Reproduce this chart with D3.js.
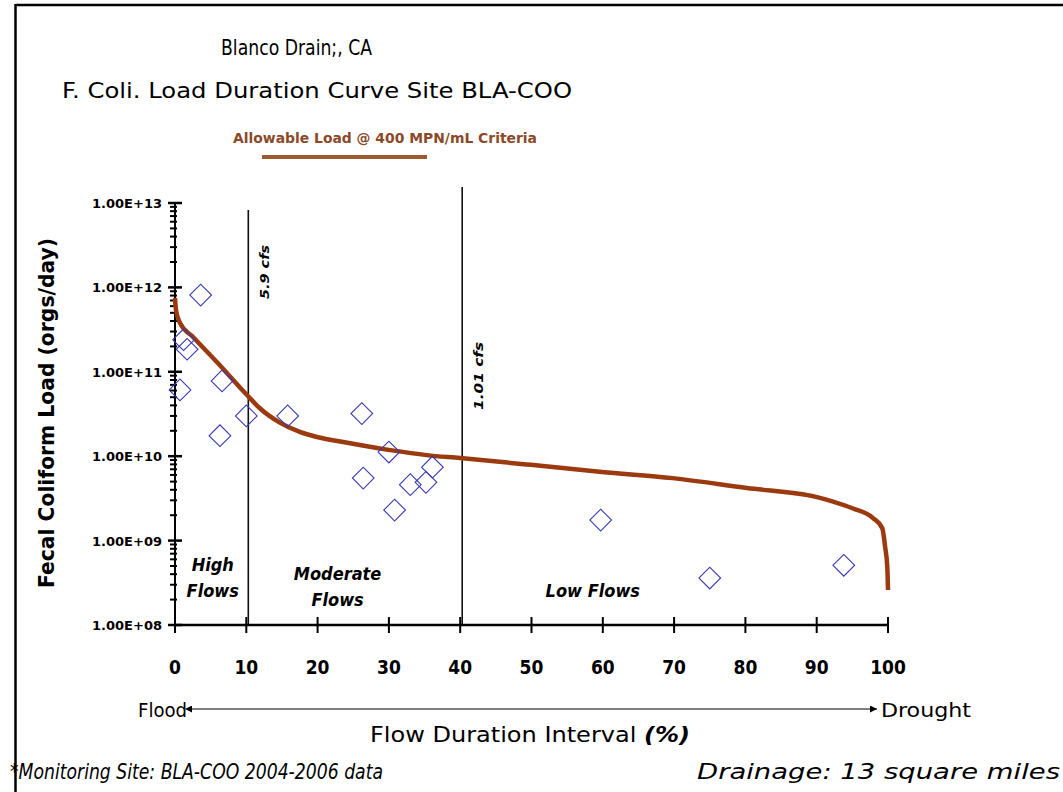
<!DOCTYPE html>
<html><head><meta charset="utf-8">
<script src="https://cdn.jsdelivr.net/npm/d3@7"></script>
<style>
html,body{margin:0;padding:0;background:#fff;}
svg{display:block;}
text{font-family:"Comic Sans MS","DejaVu Sans",sans-serif;}
.cond{font-family:"DejaVu Sans Condensed","DejaVu Sans",sans-serif;font-stretch:condensed;}
</style></head>
<body>
<svg id="chart" width="1063" height="792"></svg>
<script>
// ---- data ----
const curveX = [0, 0.14, 0.7, 2.5, 6.0, 10.1, 11.9, 14.7, 17.5, 19.9, 23.6, 30.2, 35.3, 40, 49.9, 59.9, 69.8, 80.2, 89.9, 92.3, 95.1, 97.9, 99.2, 99.6, 99.9, 100];
const curveY = [7.5e11, 5.4e11, 3.8e11, 2.6e11, 1.27e11, 5.3e10, 3.7e10, 2.5e10, 1.94e10, 1.69e10, 1.47e10, 1.18e10, 1.03e10, 9.5e9, 7.9e9, 6.5e9, 5.5e9, 4.2e9, 3.3e9, 2.9e9, 2.4e9, 1.85e9, 1.4e9, 8.4e8, 4.9e8, 2.6e8];
const obsX = [3.6, 1.2, 1.7, 0.7, 6.6, 6.3, 10.0, 15.8, 26.2, 30.0, 26.4, 30.8, 33.0, 35.2, 36.1, 59.7, 75.0, 93.8];
const obsY = [8.1e11, 2.4e11, 1.85e11, 6.1e10, 7.8e10, 1.75e10, 3.0e10, 3.0e10, 3.2e10, 1.12e10, 5.5e9, 2.3e9, 4.6e9, 4.9e9, 7.4e9, 1.75e9, 3.6e8, 5.1e8];
const xTicks = [0, 10, 20, 30, 40, 50, 60, 70, 80, 90, 100];
const yTicks = [1e8, 1e9, 1e10, 1e11, 1e12, 1e13];
const boundaries = [10, 40];
const boundaryLabels = ["5.9 cfs", "1.01 cfs"];
const regionNames = [["High", "Flows"], ["Moderate", "Flows"], ["Low Flows"]];
const regionCenters = [5.3, 22.8, 58.6];

// ---- layout ----
const svg = d3.select("#chart");
const x = d3.scaleLinear().domain([0, 100]).range([175, 888]);
const y = d3.scaleLog().domain([1e8, 1e13]).range([625, 203]);

// frame (top and left rules)
svg.append("line").attr("x1", 15.5).attr("x2", 1063).attr("y1", 5).attr("y2", 5).attr("stroke", "#000").attr("stroke-width", 2.5);
svg.append("line").attr("x1", 15.5).attr("x2", 15.5).attr("y1", 4).attr("y2", 792).attr("stroke", "#000").attr("stroke-width", 2.5);

// titles
svg.append("text").attr("x", 221).attr("y", 55)
  .attr("font-size", 21).attr("textLength", 151).attr("lengthAdjust", "spacingAndGlyphs").text("Blanco Drain;, CA");
svg.append("text").attr("x", 62).attr("y", 98)
  .attr("font-size", 22).attr("textLength", 510).attr("lengthAdjust", "spacingAndGlyphs").text("F. Coli. Load Duration Curve Site BLA-COO");

// legend
svg.append("text").attr("x", 233).attr("y", 143)
  .attr("font-size", 14).attr("font-weight", "bold").attr("fill", "#8a4a2a")
  .attr("textLength", 304).attr("lengthAdjust", "spacingAndGlyphs").text("Allowable Load @  400 MPN/mL Criteria");
svg.append("line").attr("x1", 262).attr("x2", 427).attr("y1", 157).attr("y2", 157)
  .attr("stroke", "#9a5a2c").attr("stroke-width", 4);

// boundary lines
const topY = [210, 187];
boundaries.forEach((b, i) => {
  svg.append("line").attr("x1", x(b) + 2).attr("x2", x(b) + 2).attr("y1", topY[i]).attr("y2", 625)
    .attr("stroke", "#111").attr("stroke-width", 1.6);
});
const blY = [272, 376];
const blLen = [54, 68];
boundaryLabels.forEach((t, i) => {
  const px = x(boundaries[i]) + 2 + 21;
  svg.append("text").attr("transform", `translate(${px},${blY[i]}) rotate(-90)`)
    .attr("text-anchor", "middle").attr("font-size", 13).attr("font-weight", "bold").attr("font-style", "italic")
    .attr("textLength", blLen[i]).attr("lengthAdjust", "spacingAndGlyphs")
    .text(t);
});

// region labels
const regionY = [[571, 597], [580, 606], [597]];
regionNames.forEach((lines, i) => {
  lines.forEach((l, j) => {
    svg.append("text").attr("class", "cond").attr("x", x(regionCenters[i])).attr("y", regionY[i][j]).attr("text-anchor", "middle")
      .attr("font-size", 18).attr("font-weight", "bold").attr("font-style", "italic").text(l);
  });
});

// y axis
svg.append("line").attr("x1", 175).attr("x2", 175).attr("y1", 203).attr("y2", 626).attr("stroke", "#000").attr("stroke-width", 2);
const minor = [];
for (let e = 8; e < 13; e++) for (let m = 2; m <= 9; m++) minor.push(m * Math.pow(10, e));
svg.selectAll(".ymin").data(minor).enter().append("line")
  .attr("x1", 170).attr("x2", 177).attr("y1", d => y(d)).attr("y2", d => y(d))
  .attr("stroke", "#000").attr("stroke-width", 2);
svg.selectAll(".ymaj").data(yTicks).enter().append("line")
  .attr("x1", 168).attr("x2", 182).attr("y1", d => y(d)).attr("y2", d => y(d))
  .attr("stroke", "#000").attr("stroke-width", 2.5);
svg.selectAll(".ylab").data(yTicks).enter().append("text")
  .attr("x", 162).attr("y", d => y(d) + 5).attr("text-anchor", "end")
  .attr("font-size", 13).attr("font-weight", "bold").attr("font-family", "DejaVu Sans Mono, monospace")
  .attr("textLength", 70).attr("lengthAdjust", "spacingAndGlyphs")
  .text(d => "1.00E+" + String(Math.round(Math.log10(d))).padStart(2, "0"));
svg.append("text").attr("class", "cond").attr("transform", "translate(54,413) rotate(-90)").attr("text-anchor", "middle")
  .attr("font-size", 21).attr("font-weight", "bold")
  .attr("textLength", 350).attr("lengthAdjust", "spacingAndGlyphs")
  .text("Fecal Coliform Load (orgs/day)");

// x axis
svg.append("line").attr("x1", 174).attr("x2", 889).attr("y1", 625).attr("y2", 625).attr("stroke", "#000").attr("stroke-width", 2.5);
svg.selectAll(".xt").data(xTicks).enter().append("line")
  .attr("x1", d => x(d)).attr("x2", d => x(d)).attr("y1", 617).attr("y2", 633)
  .attr("stroke", "#000").attr("stroke-width", 2);
svg.selectAll(".xl").data(xTicks).enter().append("text").attr("class", "cond")
  .attr("x", d => x(d)).attr("y", 674).attr("text-anchor", "middle")
  .attr("font-size", 19).attr("font-weight", "bold").text(d => d);

// flood / drought arrow
const defs = svg.append("defs");
["s", "e"].forEach(k => {
  defs.append("marker").attr("id", "arr" + k).attr("viewBox", "0 0 10 10").attr("refX", k === "e" ? 10 : 0).attr("refY", 5)
    .attr("markerWidth", 7).attr("markerHeight", 7).attr("markerUnits", "userSpaceOnUse").attr("orient", "auto-start-reverse")
    .append("path").attr("d", "M0,0 L10,5 L0,10 z").attr("fill", "#000");
});
svg.append("line").attr("x1", 192).attr("x2", 877).attr("y1", 709).attr("y2", 709)
  .attr("stroke", "#000").attr("stroke-width", 1)
  .attr("marker-start", "url(#arrs)").attr("marker-end", "url(#arre)");
svg.append("text").attr("class", "cond").attr("x", 138).attr("y", 717).attr("font-size", 20)
  .attr("textLength", 49).attr("lengthAdjust", "spacingAndGlyphs").text("Flood");
svg.append("text").attr("class", "cond").attr("x", 881).attr("y", 717).attr("font-size", 20)
  .attr("textLength", 90).attr("lengthAdjust", "spacingAndGlyphs").text("Drought");
const xt = svg.append("text").attr("class", "cond").attr("x", 370).attr("y", 742).attr("font-size", 22)
  .attr("textLength", 320).attr("lengthAdjust", "spacingAndGlyphs");
xt.append("tspan").text("Flow Duration Interval ");
xt.append("tspan").attr("font-style", "italic").attr("font-weight", "bold").text("(%)");

// footer
svg.append("text").attr("x", 10).attr("y", 779).attr("font-size", 21).attr("font-style", "italic")
  .attr("textLength", 373).attr("lengthAdjust", "spacingAndGlyphs").text("*Monitoring Site: BLA-COO 2004-2006 data");
svg.append("text").attr("x", 697).attr("y", 779).attr("font-size", 22).attr("font-style", "italic")
  .attr("textLength", 363).attr("lengthAdjust", "spacingAndGlyphs").text("Drainage: 13 square miles");

// curve
const curveData = curveX.map((v, i) => [v, curveY[i]]);
svg.append("path").datum(curveData)
  .attr("d", d3.line().x(d => x(d[0])).y(d => y(d[1])).curve(d3.curveMonotoneX))
  .attr("fill", "none").attr("stroke", "#9a3a0e").attr("stroke-width", 4.5).attr("stroke-linejoin", "round");

// observations
const obs = obsX.map((v, i) => [v, obsY[i]]);
const sym = d3.symbol().type(d3.symbolSquare).size(235);
svg.selectAll(".obs").data(obs).enter().append("path")
  .attr("d", sym)
  .attr("transform", d => `translate(${x(d[0])},${y(d[1])}) rotate(45)`)
  .attr("fill", "none").attr("stroke", "#3838b0").attr("stroke-width", 1.1);
</script>
</body></html>
